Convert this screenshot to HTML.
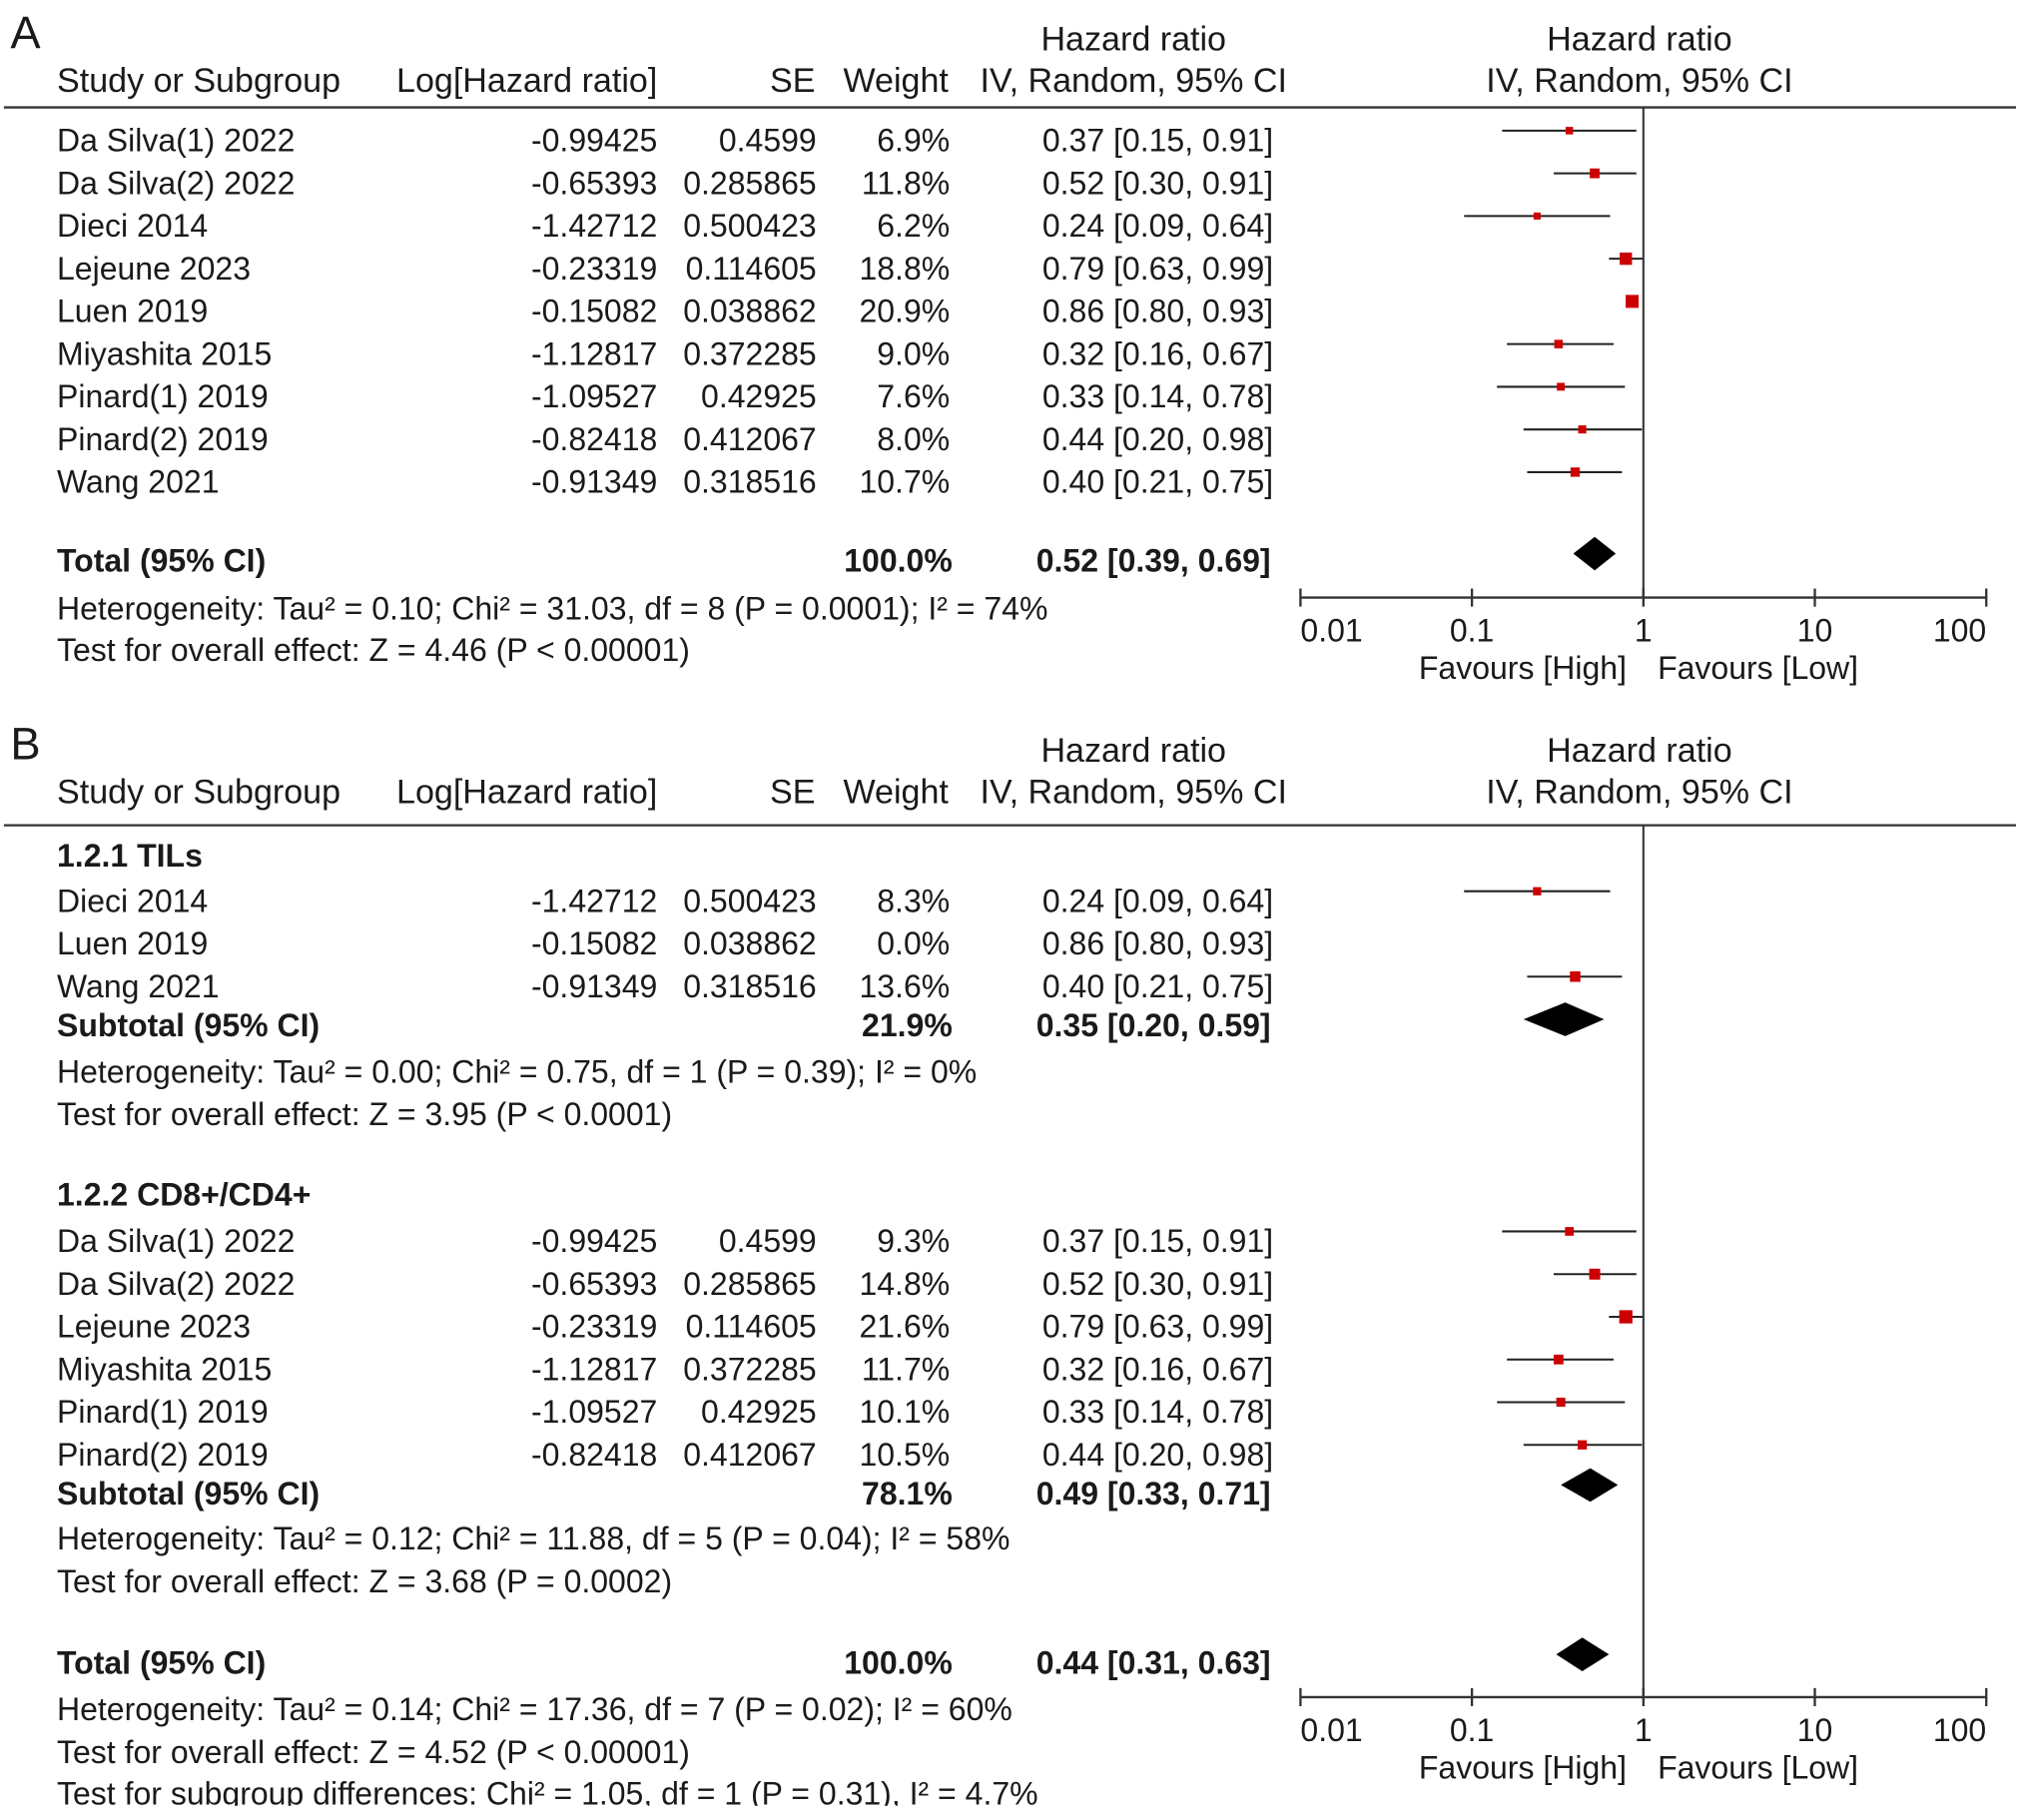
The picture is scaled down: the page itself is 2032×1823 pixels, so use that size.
<!DOCTYPE html>
<html><head><meta charset="utf-8"><style>
html,body{margin:0;padding:0;background:#fff;}
svg{display:block;font-family:"Liberation Sans",Arial,sans-serif;}
text{fill:#1a1a1a;font-size:24.7px;}
.b{font-weight:bold;}
.h{font-size:26.3px;}
</style></head><body>
<svg id="chart" width="2032" height="1823" viewBox="0 0 1568 1407" preserveAspectRatio="none" xmlns="http://www.w3.org/2000/svg"></svg>
<script>
// Panel A data
const studiesA = ["Da Silva(1) 2022","Da Silva(2) 2022","Dieci 2014","Lejeune 2023","Luen 2019","Miyashita 2015","Pinard(1) 2019","Pinard(2) 2019","Wang 2021"];
const logHRA = ["-0.99425","-0.65393","-1.42712","-0.23319","-0.15082","-1.12817","-1.09527","-0.82418","-0.91349"];
const seA = ["0.4599","0.285865","0.500423","0.114605","0.038862","0.372285","0.42925","0.412067","0.318516"];
const weightA = [6.9,11.8,6.2,18.8,20.9,9.0,7.6,8.0,10.7];
const hrA = [0.37,0.52,0.24,0.79,0.86,0.32,0.33,0.44,0.40];
const loA = [0.15,0.30,0.09,0.63,0.80,0.16,0.14,0.20,0.21];
const hiA = [0.91,0.91,0.64,0.99,0.93,0.67,0.78,0.98,0.75];
const totalA = [0.52,0.39,0.69];
// Panel B subgroup 1
const studiesB1 = ["Dieci 2014","Luen 2019","Wang 2021"];
const logHRB1 = ["-1.42712","-0.15082","-0.91349"];
const seB1 = ["0.500423","0.038862","0.318516"];
const weightB1 = [8.3,0.0,13.6];
const hrB1 = [0.24,0.86,0.40];
const loB1 = [0.09,0.80,0.21];
const hiB1 = [0.64,0.93,0.75];
const subB1 = [0.35,0.20,0.59];
// Panel B subgroup 2
const studiesB2 = ["Da Silva(1) 2022","Da Silva(2) 2022","Lejeune 2023","Miyashita 2015","Pinard(1) 2019","Pinard(2) 2019"];
const logHRB2 = ["-0.99425","-0.65393","-0.23319","-1.12817","-1.09527","-0.82418"];
const seB2 = ["0.4599","0.285865","0.114605","0.372285","0.42925","0.412067"];
const weightB2 = [9.3,14.8,21.6,11.7,10.1,10.5];
const hrB2 = [0.37,0.52,0.79,0.32,0.33,0.44];
const loB2 = [0.15,0.30,0.63,0.16,0.14,0.20];
const hiB2 = [0.91,0.91,0.99,0.67,0.78,0.98];
const subB2 = [0.49,0.33,0.71];
const totalB = [0.44,0.31,0.63];
const tickVals = [0.01,0.1,1,10,100];
const tickLabels = ["0.01","0.1","1","10","100"];

const svg = document.getElementById('chart');
const NS = "http://www.w3.org/2000/svg";
const X0 = 1005, X1 = 1535;
function xs(v){ return X0 + (Math.log10(v) + 2) / 4 * (X1 - X0); }
function mk(tag, attrs, parent){
  const e = document.createElementNS(NS, tag);
  for (const k in attrs) e.setAttribute(k, attrs[k]);
  (parent || svg).appendChild(e);
  return e;
}
function txt(s, x, y, anchor, cls, name){
  const t = mk('text', {x:x, y:y, 'text-anchor':anchor||'start'});
  if (cls) t.setAttribute('class', cls);
  
  
  t.textContent = s;
  return t;
}
function header(y0, letter){
  txt(letter, 8, y0 + 16, 'start', '', 'panel-letter').setAttribute('style','font-size:35px');
  txt("Hazard ratio", 876, y0 + 18, 'middle', 'h', 'hr-header');
  txt("Hazard ratio", 1267, y0 + 18, 'middle', 'h', 'plot-header');
  txt("Study or Subgroup", 44, y0 + 50, 'start', 'h', 'study-header');
  txt("Log[Hazard ratio]", 508, y0 + 50, 'end', 'h', 'loghr-header');
  txt("SE", 630, y0 + 50, 'end', 'h', 'se-header');
  txt("Weight", 733, y0 + 50, 'end', 'h', 'weight-header');
  txt("IV, Random, 95% CI", 876, y0 + 50, 'middle', 'h', 'ci-header');
  txt("IV, Random, 95% CI", 1267, y0 + 50, 'middle', 'h', 'plot-ci-header');
}
function hline(y, name){
  const l = mk('line', {x1:3, x2:1558, y1:y, y2:y, stroke:'#333', 'stroke-width':1.8});
  
  
}
function row(yc, name, lhr, se, w, hr, lo, hi){
  const by = yc + 9;
  txt(name, 44, by, 'start', '', 'study-name');
  txt(lhr, 508, by, 'end', '', 'log-hr');
  txt(se, 631, by, 'end', '', 'se');
  txt(w.toFixed(1) + "%", 734, by, 'end', '', 'weight');
  txt(hr.toFixed(2) + " [" + lo.toFixed(2) + ", " + hi.toFixed(2) + "]", 984, by, 'end', '', 'hr-ci');
  if (w > 0) {
    const my = yc - 7;
    const l = mk('line', {x1:xs(lo), x2:xs(hi), y1:my, y2:my, stroke:'#222', 'stroke-width':1.6});
    
    
    const s = Math.sqrt(w) * 2.2;
    const r = mk('rect', {x:xs(hr) - s/2, y:my - s/2, width:s, height:s, fill:'#cc0000'});
    
    
  }
}
function diamond(yc, vals, h){
  const [m, lo, hi] = vals;
  const p = mk('polygon', {points: xs(lo)+","+yc+" "+xs(m)+","+(yc-h/2)+" "+xs(hi)+","+yc+" "+xs(m)+","+(yc+h/2), fill:'#000'});
  
  
}
function summary(yc, label, w, vals){
  txt(label, 44, yc + 9, 'start', 'b', 'summary-label');
  txt(w, 736, yc + 9, 'end', 'b', 'summary-weight');
  txt(vals[0].toFixed(2) + " [" + vals[1].toFixed(2) + ", " + vals[2].toFixed(2) + "]", 982, yc + 9, 'end', 'b', 'summary-ci');
}
function axis(ya, ytop){
  const v = mk('line', {x1:xs(1), x2:xs(1), y1:ytop, y2:ya, stroke:'#333', 'stroke-width':1.6});
  
  
  const a = mk('line', {x1:X0, x2:X1, y1:ya, y2:ya, stroke:'#333', 'stroke-width':1.8});
  
  
  tickVals.forEach((t, i) => {
    const tk = mk('line', {x1:xs(t), x2:xs(t), y1:ya - 7, y2:ya + 7, stroke:'#333', 'stroke-width':1.8});
    
    
    const anc = i === 0 ? 'start' : (i === tickVals.length - 1 ? 'end' : 'middle');
    txt(tickLabels[i], xs(t), ya + 34, anc, '', 'x-tick-label');
  });
  txt("Favours [High]", 1257, ya + 63, 'end', '', 'favours-high');
  txt("Favours [Low]", 1281, ya + 63, 'start', '', 'favours-low');
}

// Panel A
header(21, "A");
hline(83, 'header-rule-a');
axis(462, 83);
studiesA.forEach((s, i) => row(108 + 33*i, s, logHRA[i], seA[i], weightA[i], hrA[i], loA[i], hiA[i]));
summary(433, "Total (95% CI)", "100.0%", totalA);
diamond(428, totalA, 26);
txt("Heterogeneity: Tau² = 0.10; Chi² = 31.03, df = 8 (P = 0.0001); I² = 74%", 44, 479, 'start', '', 'heterogeneity-a');
txt("Test for overall effect: Z = 4.46 (P < 0.00001)", 44, 511, 'start', '', 'overall-effect-a');

// Panel B
header(571, "B");
hline(638, 'header-rule-b');
axis(1312, 638);
txt("1.2.1 TILs", 44, 670, 'start', 'b', 'subgroup-1-title');
studiesB1.forEach((s, i) => row(696 + 33*i, s, logHRB1[i], seB1[i], weightB1[i], hrB1[i], loB1[i], hiB1[i]));
summary(792, "Subtotal (95% CI)", "21.9%", subB1);
diamond(788, subB1, 26);
txt("Heterogeneity: Tau² = 0.00; Chi² = 0.75, df = 1 (P = 0.39); I² = 0%", 44, 837, 'start', '', 'heterogeneity-b1');
txt("Test for overall effect: Z = 3.95 (P < 0.0001)", 44, 870, 'start', '', 'overall-effect-b1');
txt("1.2.2 CD8+/CD4+", 44, 932, 'start', 'b', 'subgroup-2-title');
studiesB2.forEach((s, i) => row(959 + 33*i, s, logHRB2[i], seB2[i], weightB2[i], hrB2[i], loB2[i], hiB2[i]));
summary(1154, "Subtotal (95% CI)", "78.1%", subB2);
diamond(1148, subB2, 26);
txt("Heterogeneity: Tau² = 0.12; Chi² = 11.88, df = 5 (P = 0.04); I² = 58%", 44, 1198, 'start', '', 'heterogeneity-b2');
txt("Test for overall effect: Z = 3.68 (P = 0.0002)", 44, 1231, 'start', '', 'overall-effect-b2');
summary(1285, "Total (95% CI)", "100.0%", totalB);
diamond(1279, totalB, 26);
txt("Heterogeneity: Tau² = 0.14; Chi² = 17.36, df = 7 (P = 0.02); I² = 60%", 44, 1330, 'start', '', 'heterogeneity-b');
txt("Test for overall effect: Z = 4.52 (P < 0.00001)", 44, 1363, 'start', '', 'overall-effect-b');
txt("Test for subgroup differences: Chi² = 1.05, df = 1 (P = 0.31), I² = 4.7%", 44, 1395, 'start', '', 'subgroup-differences');
const cover = mk('rect', {x:0, y:1396, width:1568, height:20, fill:'#fff'});


</script>
</body></html>
